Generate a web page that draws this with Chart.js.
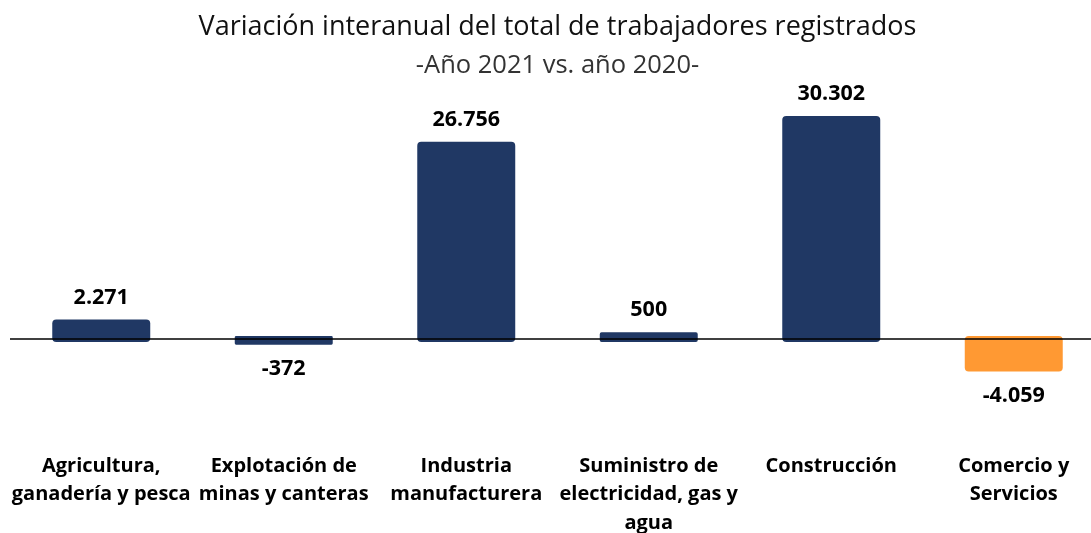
<!DOCTYPE html>
<html>
<head>
<meta charset="utf-8">
<script src="https://cdn.jsdelivr.net/npm/chart.js@4.4.1/dist/chart.umd.min.js"></script>
<style>
  html, body { margin: 0; padding: 0; background: #fff; overflow: hidden; }
  #wrap { width: 1091px; height: 533px; overflow: hidden; position: relative; }
  #chart { position: absolute; left: 0; top: 0; }
</style>
</head>
<body>
<div id="wrap"><canvas id="chart" width="1110" height="541"></canvas></div>
<script>
// data
const categories = [
  ["Agricultura,", "ganadería y pesca"],
  ["Explotación de", "minas y canteras"],
  ["Industria", "manufacturera"],
  ["Suministro de", "electricidad, gas y", "agua"],
  ["Construcción"],
  ["Comercio y", "Servicios"],
];
const values = [2271, -372, 26756, 500, 30302, -4059];
const highlightIndex = 5; // Comercio y Servicios va en naranja

const chartTitle = "Variación interanual del total de trabajadores registrados";
const chartSubtitle = "-Año 2021 vs. año 2020-";

const FONT = "'Open Sans', sans-serif";
const NAVY = "#203864";
const ORANGE = "#FF9933";

const barColors = values.map((v, i) => (i === highlightIndex ? ORANGE : NAVY));

// 2.271 / -4.059 style
const fmt = (v) => {
  const s = String(Math.abs(v)).replace(/\B(?=(\d{3})+(?!\d))/g, ".");
  return v < 0 ? "-" + s : s;
};

// zero line + value labels on top of the bars
const zeroAndLabels = {
  id: "zeroAndLabels",
  afterDatasetsDraw(chart) {
    const { ctx, chartArea, scales } = chart;
    const y0 = scales.y.getPixelForValue(0);
    ctx.save();
    ctx.strokeStyle = "#000";
    ctx.lineWidth = 1.5;
    ctx.beginPath();
    ctx.moveTo(chartArea.left, y0);
    ctx.lineTo(chartArea.right, y0);
    ctx.stroke();

    ctx.fillStyle = "#000";
    ctx.font = "bold 21.5px " + FONT;
    ctx.textAlign = "center";
    ctx.textBaseline = "middle";
    const meta = chart.getDatasetMeta(0);
    meta.data.forEach((bar, i) => {
      const v = values[i];
      const y = v >= 0 ? Math.min(bar.y, y0) - 25 : Math.max(bar.y, y0) + 27;
      ctx.fillText(fmt(v), bar.x, y);
    });
    ctx.restore();
  },
};

new Chart(document.getElementById("chart"), {
  type: "bar",
  data: {
    labels: categories,
    datasets: [
      {
        data: values,
        backgroundColor: barColors,
        borderWidth: 0,
        borderRadius: 4,
        borderSkipped: false,
        inflateAmount: 3,
        barPercentage: 0.504,
        categoryPercentage: 1,
      },
    ],
  },
  options: {
    responsive: false,
    animation: false,
    layout: { padding: { left: 10, right: 5, top: 0, bottom: 0 } },
    plugins: {
      legend: { display: false },
      tooltip: { enabled: false },
      title: {
        display: true,
        text: chartTitle,
        color: "#111",
        font: { family: FONT, size: 27, weight: "normal" },
        padding: { top: 11, bottom: 7 },
      },
      subtitle: {
        display: true,
        text: chartSubtitle,
        color: "#333",
        font: { family: FONT, size: 25.5, weight: "normal" },
        padding: { top: 0, bottom: 4 },
      },
    },
    scales: {
      x: {
        grid: { display: false, drawTicks: false },
        border: { display: false },
        ticks: {
          color: "#000",
          font: { family: FONT, size: 20, weight: "bold", lineHeight: 1.42 },
          padding: 4,
          maxRotation: 0,
          autoSkip: false,
        },
      },
      y: {
        display: false,
        min: -15000,
        max: 35000,
      },
    },
  },
  plugins: [zeroAndLabels],
});
</script>
</body>
</html>
